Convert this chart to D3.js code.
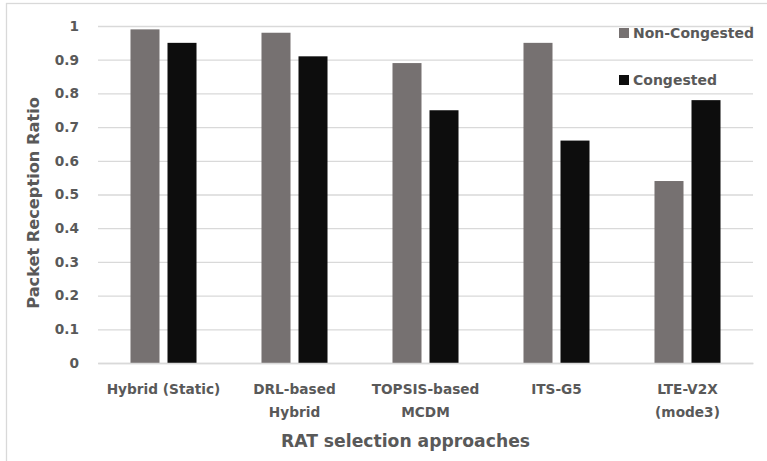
<!DOCTYPE html>
<html>
<head>
<meta charset="utf-8">
<script src="https://cdn.jsdelivr.net/npm/d3@7"></script>
<style>
  html, body { margin: 0; padding: 0; background: #fff; }
  svg { display: block; }
  text { font-family: "DejaVu Sans", sans-serif; font-weight: bold; fill: #595959; }
</style>
</head>
<body>
<svg id="chart" width="767" height="461"></svg>
<script>
const categories = [["Hybrid (Static)"], ["DRL-based", "Hybrid"], ["TOPSIS-based", "MCDM"], ["ITS-G5"], ["LTE-V2X", "(mode3)"]];
const seriesNames = ["Non-Congested", "Congested"];
const nonCongested = [0.99, 0.98, 0.89, 0.95, 0.54];
const congested = [0.95, 0.91, 0.75, 0.66, 0.78];
const yTicks = [0, 0.1, 0.2, 0.3, 0.4, 0.5, 0.6, 0.7, 0.8, 0.9, 1];
const colors = ["#767171", "#0d0d0d"];

const svg = d3.select("#chart");
const margin = { left: 98, right: 767 - 753, top: 26, bottom: 461 - 363 };
const W = 767, H = 461;

// outer frame
svg.append("rect").attr("x", 6.5).attr("y", 3.5).attr("width", 900).attr("height", 600)
  .attr("fill", "none").attr("stroke", "#d9d9d9").attr("stroke-width", 1.3);

const catIdx = categories.map((c, i) => i);
const x0 = d3.scaleBand().domain(catIdx).range([margin.left, W - margin.right]).padding(0);
const x1 = d3.scaleBand().domain(seriesNames).range([0, x0.bandwidth()])
  .paddingInner(8 / 37).paddingOuter(0.878);
const y = d3.scaleLinear().domain([0, 1]).range([H - margin.bottom, margin.top]);

// gridlines
const yAxis = d3.axisLeft(y).tickValues(yTicks).tickSize(-(W - margin.right - margin.left))
  .tickFormat(d => d3.format("")(d)).tickPadding(19);
const gy = svg.append("g").attr("transform", `translate(${margin.left},0)`).call(yAxis);
gy.select(".domain").remove();
gy.selectAll(".tick line").attr("stroke", "#d9d9d9").attr("stroke-width", 1.3);
gy.selectAll(".tick text").style("font-size", "13.7px").attr("fill", "#595959")
  .attr("font-family", null);

// bars
const seriesData = [nonCongested, congested];
seriesNames.forEach((s, si) => {
  svg.append("g").selectAll("rect").data(seriesData[si]).join("rect")
    .attr("x", (d, i) => x0(i) + x1(s))
    .attr("width", x1.bandwidth())
    .attr("y", d => y(d))
    .attr("height", d => y(0) - y(d))
    .attr("fill", colors[si]);
});

// category labels
const xAxis = d3.axisBottom(x0).tickSize(0).tickFormat("");
const gx = svg.append("g").attr("transform", `translate(0,${y(0)})`).call(xAxis);
gx.select(".domain").attr("stroke", "#d9d9d9").attr("stroke-width", 1.3);
gx.selectAll(".tick").each(function(d) {
  const t = d3.select(this).append("text").attr("text-anchor", "middle")
    .style("font-size", "13.7px").attr("fill", "#595959");
  categories[d].forEach((line, li) => {
    t.append("tspan").attr("x", 0).attr("y", 31 + li * 22.7).text(line);
  });
});

// axis titles
svg.append("text").attr("transform", `translate(39,${203}) rotate(-90)`)
  .attr("text-anchor", "middle").style("font-size", "16.2px").text("Packet Reception Ratio");
svg.append("text").attr("x", 405.5).attr("y", 446.5).attr("text-anchor", "middle")
  .style("font-size", "17.2px").text("RAT selection approaches");

// legend
const legendY = [33, 80];
seriesNames.forEach((s, si) => {
  svg.append("rect").attr("x", 619).attr("y", legendY[si] - 5).attr("width", 10).attr("height", 10)
    .attr("fill", colors[si]);
  svg.append("text").attr("x", 633).attr("y", legendY[si] + 5).style("font-size", "14px").text(s);
});
</script>
</body>
</html>
